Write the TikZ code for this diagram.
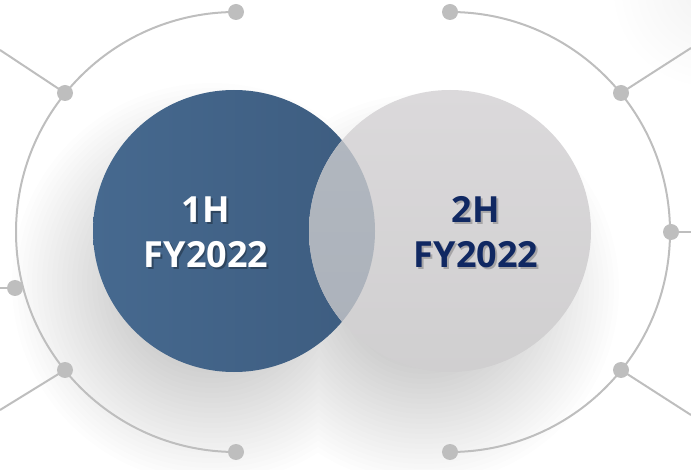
\documentclass[tikz,border=0pt]{standalone}
\usepackage{fontspec}
\newfontfamily\labelfont{Open Sans}
\usetikzlibrary{fadings}

\definecolor{linegray}{RGB}{190,190,190}
\definecolor{bluetop}{RGB}{70,105,143}
\definecolor{bluebot}{RGB}{61,92,127}
\definecolor{graytop}{RGB}{219,217,219}
\definecolor{graybot}{RGB}{208,207,208}
\definecolor{overlaptop}{RGB}{178,184,192}
\definecolor{overlapbot}{RGB}{171,177,186}
\definecolor{navy}{RGB}{16,40,98}

\tikzfading[name=cornerfade, inner color=transparent!0, outer color=transparent!100]

\begin{document}
\begin{tikzpicture}[x=1pt,y=1pt,
  arcline/.style={draw=linegray, line width=2pt},
  dot/.style={circle, fill=linegray, inner sep=0pt, minimum size=16pt},
  yearlabel/.style={font=\labelfont\bfseries\fontsize{36}{45}\selectfont, anchor=base, inner sep=0pt},
  textshadow/.style={yearlabel, text=black, text opacity=0.3},
]
\useasboundingbox (0,0) rectangle (691,469);
\clip (0,0) rectangle (691,469);

% faint haze in the upper right corner
\fill[black!5, path fading=cornerfade] (710,480) circle (100);

% soft drop shadow under both discs, offset down and to the left
\foreach \k in {0,...,24}
  \fill[black, opacity=0.006] (212,186) circle ({200-5*\k}) (424,180) circle ({195-5*\k});

% dot positions on the two outer arcs
\coordinate (p1) at (236,457);
\coordinate (p2) at (65,376);
\coordinate (p3) at (15,181);
\coordinate (p4) at (65,99);
\coordinate (p5) at (236,17);
\coordinate (q1) at (450,457);
\coordinate (q2) at (621,376);
\coordinate (q3) at (671,237);
\coordinate (q4) at (621,99);
\coordinate (q5) at (450,17);

% free ends of the spokes at the page edge
\coordinate (e2) at (0,419);
\coordinate (e3) at (0,181);
\coordinate (e4) at (0,59);
\coordinate (f2) at (691,421);
\coordinate (f3) at (691,237);
\coordinate (f4) at (691,54);

% outer arcs
\draw[arcline] (p1) arc[start angle=90, end angle=270, radius=220];
\draw[arcline] (q1) arc[start angle=90, end angle=-90, radius=220];

% spokes
\draw[arcline] (p2) -- (e2);
\draw[arcline] (p3) -- (e3);
\draw[arcline] (p4) -- (e4);
\draw[arcline] (q2) -- (f2);
\draw[arcline] (q3) -- (f3);
\draw[arcline] (q4) -- (f4);

% dots
\foreach \p in {p1,p2,p3,p4,p5,q1,q2,q3,q4,q5}
  \node[dot] (d\p) at (\p) {};

% the two discs and their overlap
\shade[left color=bluetop, right color=bluebot] (234,238) circle (141);
\shade[top color=graytop, bottom color=graybot] (450,238) circle (141);
\begin{scope}
  \clip (234,238) circle (141);
  \shade[top color=overlaptop, bottom color=overlapbot] (450,238) circle (141);
\end{scope}

% labels with a light drop shadow
\node[textshadow] at (207.5,244.5) {1H};
\node[textshadow] at (207.5,199.5) {FY2022};
\node[yearlabel, text=white] (h1) at (206,246) {1H};
\node[yearlabel, text=white] (y1) at (206,201) {FY2022};

\node[textshadow, text opacity=0.22] at (477.5,244.5) {2H};
\node[textshadow, text opacity=0.22] at (477.5,199.5) {FY2022};
\node[yearlabel, text=navy] (h2) at (476,246) {2H};
\node[yearlabel, text=navy] (y2) at (476,201) {FY2022};
\end{tikzpicture}
\end{document}
